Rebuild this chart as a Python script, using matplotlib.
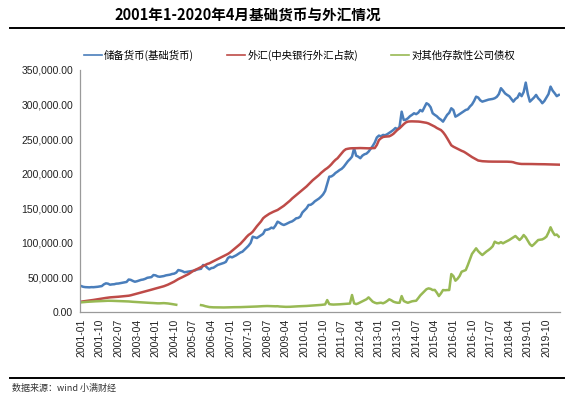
import numpy as np
import matplotlib.pyplot as plt
from matplotlib.ticker import FuncFormatter

plt.rcParams['font.family'] = ['Noto Sans CJK SC', 'DejaVu Sans']

# monthly data 2001-01 .. 2020-04, unit: 亿元
years = list(range(2001, 2021))
months = [f'{y}-{m:02d}' for y in years for m in range(1, 13)][:232]

base_money = [
    37600, 36500, 36000, 35800, 35700, 36000, 35900, 36200, 36500, 37000, 37500, 40000,
    41500, 41000, 39500, 40000, 40200, 41000, 41200, 41800, 42500, 43000, 43500, 47000,
    46500, 45000, 43800, 44500, 45500, 46500, 47000, 48000, 49500, 50000, 50500, 53500,
    53000, 51500, 51000, 51500, 52000, 53000, 53500, 54000, 55000, 55500, 57000, 60700,
    60000, 59000, 57500, 58000, 58500, 59000, 59500, 60000, 61500, 62000, 62500, 68000,
    67000, 64000, 61700, 63500, 64000, 66000, 68000, 69000, 70000, 71000, 72500, 78000,
    80000, 79000, 80500, 82000, 84000, 86000, 87200, 90000, 93000, 96000, 100000, 108900,
    108000, 107000, 109000, 111000, 113000, 118600, 119000, 120000, 122000, 121000, 125000, 130600,
    129000, 127000, 125800, 127000, 128500, 130000, 131000, 133000, 135500, 136000, 138000, 143900,
    147000, 150000, 154700, 155000, 157000, 160000, 162000, 164000, 166700, 170000, 175000, 185300,
    195600, 196000, 198000, 201000, 203000, 205300, 207000, 210000, 214000, 218000, 221000, 224600,
    236700, 226000, 224600, 222300, 226000, 228000, 229000, 231800, 236000, 240000, 245000, 252300,
    255000, 254000, 256000, 255500, 257000, 259000, 261000, 263200, 266000, 264000, 268000, 289600,
    277600, 278000, 280000, 283000, 285000, 287300, 286000, 288000, 292000, 290000, 296000, 301800,
    300000, 296000, 287300, 285000, 283000, 280000, 278000, 275200, 280000, 285000, 288000, 294500,
    292000, 282400, 284000, 286000, 288000, 290000, 292100, 293000, 297000, 300000, 305000, 311300,
    310000, 306000, 304100, 305000, 306000, 307000, 307500, 308000, 309000, 311000, 315000, 323500,
    320000, 316000, 313800, 312000, 308000, 304100, 308000, 310000, 316000, 312000, 318000, 331600,
    315000, 304100, 307000, 310000, 313800, 309000, 306000, 301800, 305000, 310000, 315000, 325800,
    320000, 316200, 312000, 313800,
]

fx_reserve = [
    15000, 15400, 15800, 16200, 16600, 17000, 17500, 18000, 18500, 19000, 19500, 20000,
    20400, 20800, 21200, 21400, 21700, 21900, 22100, 22400, 22700, 23000, 23300, 23600,
    24200, 25000, 25800, 26600, 27400, 28200, 29000, 29800, 30600, 31400, 32300, 33200,
    34000, 34800, 35600, 36400, 37300, 38400, 39600, 41000, 42500, 44000, 45800, 47600,
    49000, 50500, 52000, 53500, 55000, 57000, 59000, 60700, 62000, 63500, 65000, 66500,
    68000, 69500, 70400, 72000, 73500, 75000, 76500, 78000, 79500, 81000, 82500, 84000,
    86000, 88500, 91000, 93500, 96000, 98500, 101700, 105000, 108500, 111500, 113500, 116100,
    120000, 124000, 127500, 131000, 135500, 138000, 140000, 142000, 143500, 145000, 146300, 147500,
    149500, 151500, 153500, 156000, 158500, 161000, 164000, 166500, 169000, 171500, 174000, 176500,
    179000, 181500, 184500, 187500, 190500, 193000, 195500, 198000, 201000, 203500, 206000, 208000,
    210500, 213500, 217000, 220000, 222300, 226000, 229500, 233000, 235300, 236000, 236500, 236700,
    236700, 236800, 236900, 237000, 236900, 236800, 236700, 236600, 236700, 236800, 237000, 241500,
    248500, 251200, 253000, 253500, 253800, 254000, 255500, 257500, 260500, 263500, 265600, 268500,
    271500, 274000, 275200, 275500, 275600, 275500, 275400, 275300, 275000, 274500, 274000, 273500,
    272500, 271000, 269500, 268000, 266000, 264500, 263000, 260000, 256000, 251200, 246000, 241000,
    239000, 237500, 236000, 234500, 233000, 231800, 230000, 228000, 226000, 224000, 222300, 220500,
    219000, 218500, 218000, 217800, 217600, 217500, 217400, 217400, 217400, 217300, 217300, 217400,
    217400, 217400, 217300, 217200, 217000, 216500, 215500, 214800, 214300, 214000, 214000, 214000,
    214000, 213900, 213900, 213800, 213800, 213700, 213700, 213600, 213600, 213500, 213400, 213300,
    213300, 213200, 213100, 213000,
]

nan = np.nan
claims_odc = [
    14000, 14300, 14500, 14800, 15000, 15200, 15400, 15500, 15600, 15700, 15800, 16000,
    16200, 16300, 16300, 16200, 16100, 16000, 15900, 15800, 15700, 15600, 15500, 15300,
    15000, 14800, 14600, 14400, 14200, 14000, 13800, 13600, 13400, 13300, 13200, 13000,
    12800, 12600, 12600, 12800, 12900, 12700, 12400, 12000, 11500, 11000, 10500, nan,
    nan, nan, nan, nan, nan, nan, nan, nan, nan, nan, 10000, 9500,
    8500, 7800, 7200, 7000, 6800, 6800, 6700, 6700, 6600, 6600, 6700, 6800,
    6800, 6900, 7000, 7000, 7100, 7100, 7200, 7300, 7400, 7500, 7600, 7800,
    7900, 8000, 8200, 8400, 8500, 8600, 8700, 8600, 8500, 8400, 8300, 8400,
    8000, 7800, 7600, 7500, 7500, 7600, 7800, 8000, 8200, 8300, 8400, 8500,
    8600, 8800, 9000, 9200, 9400, 9600, 9800, 10000, 10300, 10600, 11000, 17300,
    11500, 11000, 10800, 10900, 11000, 11200, 11400, 11600, 11800, 12000, 12300, 24600,
    12600, 11500, 12500, 14000, 15500, 17000, 18500, 21200, 18000, 15000, 13500, 12600,
    13000, 13500, 12600, 14000, 16000, 18400, 17000, 15000, 14000, 13400, 13400, 23100,
    16000, 14500, 13400, 14500, 15500, 16000, 16300, 20000, 24000, 27000, 30000, 33000,
    34200, 33500, 31800, 32000, 28000, 23100, 27000, 31800, 31500, 31800, 31800, 54900,
    52000, 45300, 48000, 52000, 58300, 59500, 60700, 68000, 76000, 84000, 88000, 92100,
    88000, 85000, 82400, 85000, 87500, 89600, 92000, 95000, 101700, 100000, 99300, 101000,
    99300, 101000, 102500, 104100, 106000, 108000, 109900, 107000, 104100, 107000, 111300, 108000,
    103000, 98000, 95400, 98000, 101000, 104100, 104500, 105000, 106600, 109000, 115000, 122500,
    116000, 111300, 112000, 108900,
]

series_names = ['储备货币(基础货币)', '外汇(中央银行外汇占款)', '对其他存款性公司债权']
colors = ['#4a7ebb', '#be4b48', '#98b954']

x = np.arange(len(months))

fig = plt.figure(figsize=(5.76, 3.97), dpi=100)
ax = fig.add_axes([0.139, 0.214, 0.833, 0.61])

for data, name, c in zip([base_money, fx_reserve, claims_odc], series_names, colors):
    ax.plot(x, data, color=c, lw=1.8, label=name)

ax.set_xlim(-0.5, len(months) - 0.5)
ax.set_ylim(0, 350000)
ax.set_yticks(np.arange(0, 350001, 50000))
ax.yaxis.set_major_formatter(FuncFormatter(lambda v, p: f'{v:,.2f}'))
ax.set_xticks(x[::9])
ax.set_xticklabels(months[::9], rotation=90, family='Liberation Sans', fontsize=7.5)
for lab in ax.get_yticklabels():
    lab.set_family('Liberation Sans')
    lab.set_fontsize(7.5)
ax.tick_params(length=0, pad=5, colors='#222222')

for s in ['top', 'right']:
    ax.spines[s].set_visible(False)
for s in ['left', 'bottom']:
    ax.spines[s].set_color('#9a9a9a')
    ax.spines[s].set_linewidth(0.9)

leg = fig.legend(loc='center', bbox_to_anchor=(0.52, 0.861), ncol=3, frameon=False,
                 fontsize=7.5, handlelength=1.7, handletextpad=0.2, columnspacing=3.2)
for h in leg.get_lines():
    h.set_linewidth(1.2)

fig.text(0.43, 0.962, '2001年1-2020年4月基础货币与外汇情况', ha='center', va='center',
         fontsize=10.5, fontweight='bold')
fig.add_artist(plt.Line2D([0.017, 0.98], [0.93, 0.93], color='black', lw=1.4))
fig.add_artist(plt.Line2D([0.017, 0.98], [0.048, 0.048], color='black', lw=1.4))
fig.text(0.02, 0.022, '数据来源：wind 小满财经', ha='left', va='center', fontsize=6.5,
         style='italic', color='#333333')

fig.savefig('out.png', dpi=100)
